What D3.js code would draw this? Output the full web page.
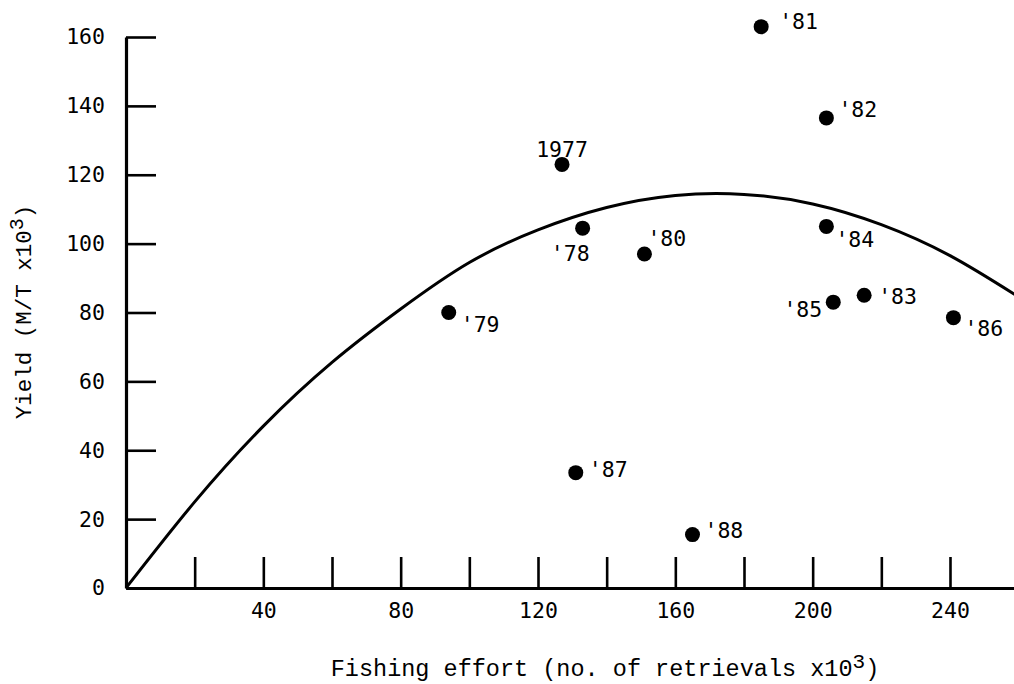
<!DOCTYPE html>
<html>
<head>
<meta charset="utf-8">
<script src="https://cdn.jsdelivr.net/npm/d3@7"></script>
<style>
  html, body { margin: 0; padding: 0; background: #fff; }
  svg { display: block; }
</style>
</head>
<body>
<svg id="chart" width="1014" height="684"></svg>
<script>
// ---- data ----
const years     = ["1977", "'78", "'79", "'80", "'81", "'82", "'83", "'84", "'85", "'86", "'87", "'88"];
const effort    = [127, 133, 94, 151, 185, 204, 215, 204, 206, 241, 131, 165];
const yieldVals = [123, 104.5, 80, 97, 163, 136.5, 85, 105, 83, 78.5, 33.5, 15.5];

// fitted yield curve at every 20 units of effort
const curveEffort = [0, 20, 40, 60, 80, 100, 120, 140, 160, 180, 200, 220, 240, 260];
const curveYield  = [0, 25, 47, 65.5, 81, 94.5, 104, 110.5, 114, 114.3, 111.5, 105.5, 96.5, 84.5];

const xTicks = [20, 40, 60, 80, 100, 120, 140, 160, 180, 200, 220, 240];
const xTickLabels = [40, 80, 120, 160, 200, 240];
const yTicks = [0, 20, 40, 60, 80, 100, 120, 140, 160];

// ---- label placement (layout only) ----
const labelPlacement = {
  "1977": { dx: 0,   dy: -7, anchor: "middle" },
  "'78":  { dx: 7,   dy: 33, anchor: "end" },
  "'79":  { dx: 12,  dy: 19, anchor: "start" },
  "'80":  { dx: 3,   dy: -8, anchor: "start" },
  "'81":  { dx: 18,  dy: 2,  anchor: "start" },
  "'82":  { dx: 12,  dy: -1, anchor: "start" },
  "'83":  { dx: 14,  dy: 9,  anchor: "start" },
  "'84":  { dx: 9,   dy: 21, anchor: "start" },
  "'85":  { dx: -11, dy: 15, anchor: "end" },
  "'86":  { dx: 11,  dy: 18, anchor: "start" },
  "'87":  { dx: 13,  dy: 4,  anchor: "start" },
  "'88":  { dx: 12,  dy: 3,  anchor: "start" }
};

const svg = d3.select("#chart");
const x0 = 126, xPer = 3.4333;
const x = d3.scaleLinear().domain([0, 260]).range([x0, x0 + 260 * xPer]);
const y = d3.scaleLinear().domain([0, 160]).range([588, 37]);

const numFont = "'DejaVu Sans Mono', monospace";
const titleFont = "'Liberation Mono', 'Courier New', monospace";

// X axis: ticks pointing up
const xAxis = d3.axisBottom(x)
  .tickValues(xTicks)
  .tickSizeInner(-31)
  .tickSizeOuter(0)
  .tickPadding(15)
  .tickFormat(d => xTickLabels.includes(d) ? String(d) : "");
const gx = svg.append("g").attr("transform", `translate(0,${y(0)})`).call(xAxis);
gx.select(".domain").attr("stroke", "#000").attr("stroke-width", 3.2);
gx.selectAll(".tick line").attr("stroke", "#000").attr("stroke-width", 2.6);
gx.selectAll(".tick text").attr("fill", "#000").style("font-family", numFont).style("font-size", "21.5px");

// Y axis: ticks pointing right
const yAxis = d3.axisLeft(y)
  .tickValues(yTicks)
  .tickSizeInner(-30)
  .tickSizeOuter(0)
  .tickPadding(21)
  .tickFormat(d => String(d));
const gy = svg.append("g").attr("transform", `translate(${x0},0)`).call(yAxis);
gy.select(".domain").attr("stroke", "#000").attr("stroke-width", 3.2);
gy.selectAll(".tick line").attr("stroke", "#000").attr("stroke-width", 2.6);
gy.selectAll(".tick text").attr("fill", "#000").style("font-family", numFont).style("font-size", "21.5px");

// curve
const curvePts = curveEffort.map((e, i) => [e, curveYield[i]]);
const line = d3.line().x(d => x(d[0])).y(d => y(d[1])).curve(d3.curveNatural);
svg.append("path")
  .datum(curvePts)
  .attr("d", line)
  .attr("fill", "none")
  .attr("stroke", "#000")
  .attr("stroke-width", 3);

// points
const pts = years.map((yr, i) => ({ yr, e: effort[i], v: yieldVals[i] }));
svg.append("g").selectAll("circle").data(pts).join("circle")
  .attr("cx", d => x(d.e))
  .attr("cy", d => y(d.v))
  .attr("r", 7.5)
  .attr("fill", "#000");

svg.append("g").selectAll("text").data(pts).join("text")
  .attr("x", d => x(d.e) + labelPlacement[d.yr].dx)
  .attr("y", d => y(d.v) + labelPlacement[d.yr].dy)
  .attr("text-anchor", d => labelPlacement[d.yr].anchor)
  .style("font-family", numFont)
  .style("font-size", "21.5px")
  .attr("fill", "#000")
  .text(d => d.yr);

// axis titles
const xt = svg.append("text")
  .attr("x", 605).attr("y", 676)
  .attr("text-anchor", "middle")
  .style("font-family", titleFont)
  .style("font-size", "23.5px")
  .attr("fill", "#000");
xt.append("tspan").text("Fishing effort (no. of retrievals x10");
xt.append("tspan").attr("dy", -8).style("font-size", "21px").text("3");
xt.append("tspan").attr("dy", 8).text(")");

const yt = svg.append("text")
  .attr("transform", "translate(31,312) rotate(-90)")
  .attr("text-anchor", "middle")
  .style("font-family", titleFont)
  .style("font-size", "22.5px")
  .attr("fill", "#000");
yt.append("tspan").text("Yield (M/T x10");
yt.append("tspan").attr("dy", -8).style("font-size", "20px").text("3");
yt.append("tspan").attr("dy", 8).text(")");
</script>
</body>
</html>
